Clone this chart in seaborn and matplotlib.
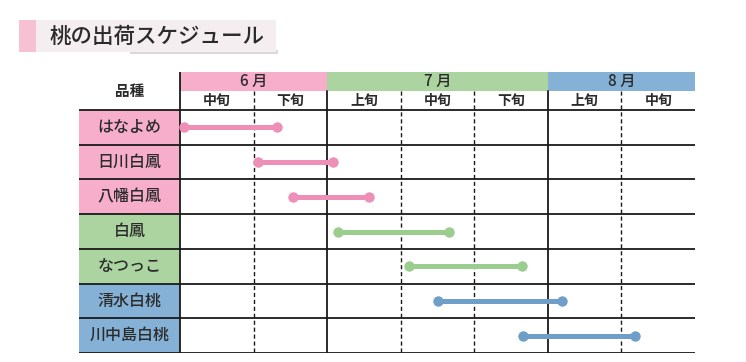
import matplotlib
matplotlib.use("Agg")
import matplotlib.pyplot as plt
import seaborn as sns
import pandas as pd
from matplotlib.patches import Rectangle

# ---- data ----
varieties = ['はなよめ', '日川白鳳', '八幡白鳳', '白鳳', 'なつっこ', '清水白桃', '川中島白桃']
start_pos = [0.05, 1.06, 1.54, 2.15, 3.11, 3.51, 4.66]
end_pos = [1.32, 2.08, 2.57, 3.66, 4.65, 5.19, 6.18]
groups = ['pink', 'pink', 'pink', 'green', 'green', 'blue', 'blue']
months = ['6 月', '7 月', '8 月']
month_spans = [2, 3, 2]
month_groups = ['pink', 'green', 'blue']
periods = ['中旬', '下旬', '上旬', '中旬', '下旬', '上旬', '中旬']
title = '桃の出荷スケジュール'
header_label = '品種'

cell_colors = {'pink': '#f7aecb', 'green': '#acd4a0', 'blue': '#85b1d6'}
line_colors = {'pink': '#ee8fb8', 'green': '#9bcd8e', 'blue': '#6f9fc8'}

sns.set_theme(style="white")
plt.rcParams['font.family'] = ['Noto Sans CJK JP', 'DejaVu Sans']

W, H = 746, 362
fig = plt.figure(figsize=(W / 100, H / 100), dpi=100)

# table axes in pixel geometry
px_left, px_right, px_top, px_bottom = 79, 695, 72, 353
col0 = 180
colw = (695 - 180) / 7
rowh = (353 - 110) / 7
ax = fig.add_axes([px_left / W, 1 - px_bottom / H,
                   (px_right - px_left) / W, (px_bottom - px_top) / H])
xmin = (px_left - col0) / colw
ymin = (px_top - 110) / rowh

band_top = ymin
band_bot = ymin / 2
txtc = '#2b2b2b'

# label cells
for i, (v, g) in enumerate(zip(varieties, groups)):
    ax.add_patch(Rectangle((xmin, i), -xmin, 1, facecolor=cell_colors[g], edgecolor='none', zorder=0))
    ax.text(xmin / 2, i + 0.5, v, ha='center', va='center', fontsize=11.5, color=txtc,
            fontweight='medium')
ax.text(xmin / 2, band_top / 2, header_label, ha='center', va='center', fontsize=10.5,
        color=txtc, fontweight='bold')

# month bands
x = 0
for m, span, g in zip(months, month_spans, month_groups):
    ax.add_patch(Rectangle((x, band_top), span, band_bot - band_top, facecolor=cell_colors[g],
                           edgecolor='none', zorder=0))
    ax.text(x + span / 2, (band_top + band_bot) / 2, m, ha='center', va='center',
            fontsize=11, color=txtc, fontweight='medium')
    x += span

for j, p in enumerate(periods):
    ax.text(j + 0.5, band_bot / 2, p, ha='center', va='center', fontsize=10, color=txtc,
            fontweight='bold')

# grid lines
for i in range(8):
    ax.plot([xmin, 7], [i, i], color='#1a1a1a', lw=1.3, zorder=2, solid_capstyle='butt')
ax.plot([0, 0], [band_top, 7], color='#1a1a1a', lw=1.3, zorder=2)
for j in range(1, 7):
    solid = j in (2, 5)
    ax.plot([j, j], [band_bot, 7], color='#1a1a1a', lw=1.0 if not solid else 1.3,
            ls='-' if solid else (0, (3, 2)), zorder=2)

# schedule bars
rows = []
for i, (v, s, e, g) in enumerate(zip(varieties, start_pos, end_pos, groups)):
    rows.append({'variety': v, 'pos': s, 'row': i + 0.5, 'grp': g})
    rows.append({'variety': v, 'pos': e, 'row': i + 0.5, 'grp': g})
df = pd.DataFrame(rows)
sns.lineplot(data=df, x='pos', y='row', units='variety', estimator=None, sort=False,
             hue='grp', palette=line_colors, marker='o', markersize=7.5,
             markeredgewidth=0, linewidth=3.6, legend=False, ax=ax, zorder=3)
ax.set_xlim(xmin, 7)
ax.set_ylim(7, ymin)
ax.axis('off')

# title box
tax = fig.add_axes([0, 0, 1, 1])
tax.set_xlim(0, W)
tax.set_ylim(H, 0)
tax.axis('off')
tax.add_patch(Rectangle((130, 50), 148, 4, facecolor='#d9d9d9', edgecolor='none', zorder=0))
tax.add_patch(Rectangle((19, 20), 257, 32, facecolor='#f4eef0', edgecolor='none', zorder=1))
tax.add_patch(Rectangle((19, 20), 17, 32, facecolor='#f7c1d4', edgecolor='none', zorder=2))
tax.text(49, 37, title, ha='left', va='center', fontsize=15.5, color='#2b2b2b', zorder=3,
         fontweight='medium')

fig.savefig('out.png', dpi=100)
